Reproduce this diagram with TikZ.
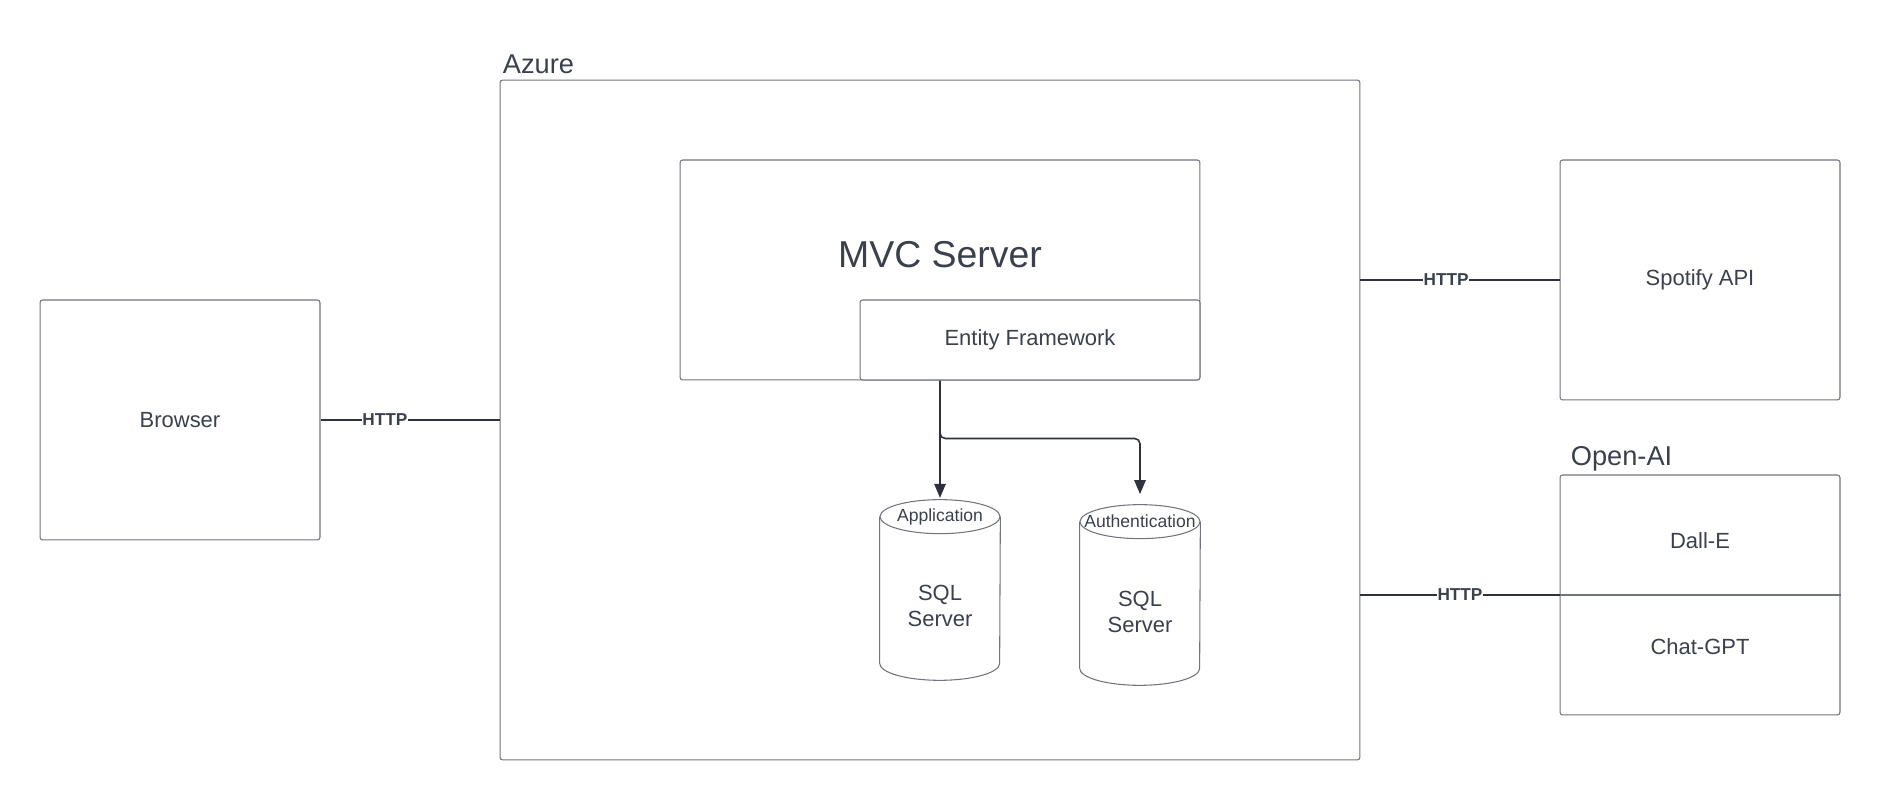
\documentclass[tikz,border=0pt]{standalone}
\usepackage{fontspec}
\setmainfont{Liberation Sans}
\usetikzlibrary{arrows.meta}

\definecolor{linegray}{RGB}{112,117,124}
\definecolor{inkdark}{RGB}{58,65,77}
\definecolor{wiredark}{RGB}{45,50,62}

\tikzset{
  box/.style={draw=linegray, line width=0.6pt, rounded corners=1.5pt, fill=white},
  wire/.style={draw=wiredark, line width=0.9pt},
  arrow/.style={wire, -{Triangle[length=8pt,width=6.5pt]}},
  lbl/.style={font=\fontsize{12.5}{15}\selectfont, text=inkdark},
  dblbl/.style={font=\fontsize{10}{12}\selectfont, text=inkdark, inner sep=0pt},
  grouplbl/.style={font=\fontsize{15.5}{18}\selectfont, text=inkdark, inner sep=0pt},
  http/.style={font=\bfseries\fontsize{9.8}{11}\selectfont, text=inkdark, fill=white, inner sep=0.5pt},
}

\begin{document}
\begin{tikzpicture}[x=0.02cm,y=0.02cm]
\useasboundingbox (0,0) rectangle (1880,800);

% cloud
\node[box, minimum width=17.2cm, minimum height=13.6cm] (azure) at (930,380) {};
\node[grouplbl, anchor=base west] (azurelbl) at ([shift={(3,6)}]azure.north west) {Azure};

\node[box, minimum width=10.4cm, minimum height=4.4cm] (mvc) at (940,530) {};
\node[font=\fontsize{21.3}{25}\selectfont, text=inkdark] (mvclbl) at (940,545) {MVC Server};
\node[box, lbl, minimum width=6.8cm, minimum height=1.6cm] (ef) at (1030,460) {Entity Framework};

% databases
\node[minimum width=2.4cm, minimum height=3.6cm, inner sep=0pt] (appdb) at (940,210) {};
\node[minimum width=2.4cm, minimum height=3.6cm, inner sep=0pt] (authdb) at (1140,205) {};
\foreach \db in {appdb,authdb} {
  \draw[box, rounded corners=0pt] ([shift={(0,-17)}]\db.north west) -- ([shift={(0,17)}]\db.south west)
    arc[start angle=180, end angle=360, x radius=1.2cm, y radius=0.34cm]
    -- ([shift={(0,-17)}]\db.north east);
  \draw[box, rounded corners=0pt] ([shift={(0,-17)}]\db.north) ellipse [x radius=1.2cm, y radius=0.34cm];
}
\node[dblbl] at ([shift={(0,-17)}]appdb.north) {Application};
\node[dblbl] at ([shift={(0,-17)}]authdb.north) {Authentication};
\node[lbl, align=center] at ([shift={(0,-16)}]appdb.center) {SQL\\Server};
\node[lbl, align=center] at ([shift={(0,-17)}]authdb.center) {SQL\\Server};

\draw[arrow, shorten >=1pt] (ef.south -| appdb.north) -- (appdb.north);
\draw[arrow, rounded corners=3pt, shorten >=6pt] (ef.south -| appdb.north) -- ++(0,-58) -| (authdb.north);

% outside
\node[box, lbl, minimum width=5.6cm, minimum height=4.8cm] (browser) at (180,380) {Browser};
\node[box, lbl, minimum width=5.6cm, minimum height=4.8cm] (spotify) at (1700,520) {Spotify API};

\node[box, minimum width=5.6cm, minimum height=4.8cm] (openai) at (1700,205) {};
\draw[draw=linegray, line width=0.6pt] (openai.west) -- (openai.east);
\node[grouplbl, anchor=base west] (openailbl) at ([shift={(11,9)}]openai.north west) {Open-AI};
\node[lbl] (dalle) at (1700,259) {Dall-E};
\node[lbl] (chatgpt) at (1700,153) {Chat-GPT};

% links
\draw[wire] (browser.east) -- node[http, pos=0.36] {HTTP} (azure.west);
\draw[wire] (spotify.west -| azure.east) -- node[http, pos=0.43] {HTTP} (spotify.west);
\draw[wire] (openai.west -| azure.east) -- node[http, pos=0.5] {HTTP} (openai.west);
\end{tikzpicture}
\end{document}
